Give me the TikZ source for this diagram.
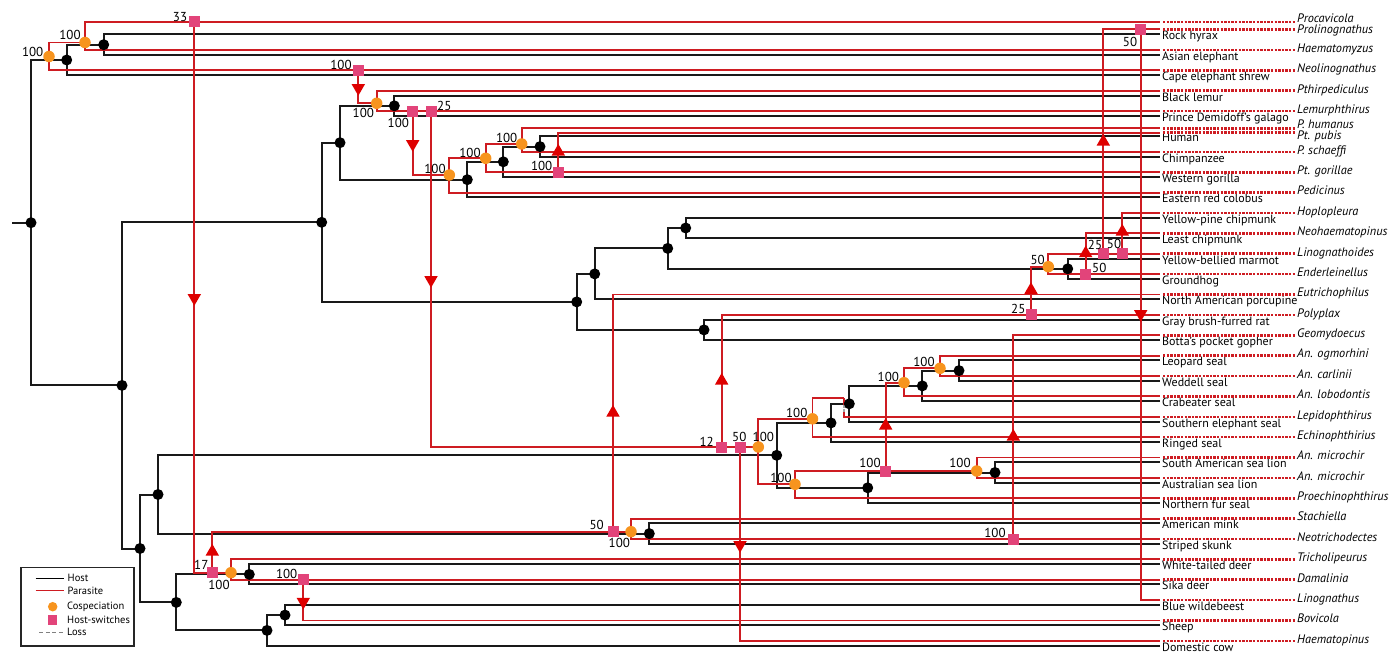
\documentclass[tikz,border=0pt]{standalone}
\usepackage{fontspec}
\setmainfont{PT Sans}
\usetikzlibrary{shapes.geometric}
\definecolor{parc}{RGB}{206,28,34}
\definecolor{tric}{RGB}{222,0,0}
\definecolor{orng}{RGB}{247,148,30}
\definecolor{pnk}{RGB}{226,68,122}
\tikzset{
 host/.style={line width=2pt, black!90},
 para/.style={line width=1.9pt, parc},
 pdot/.style={line width=2.6pt, parc, dash pattern=on 2.4pt off 1.2pt},
 bdot/.style={circle, fill=black, inner sep=0pt, minimum size=11pt},
 cosp/.style={circle, fill=orng, inner sep=0pt, minimum size=11.5pt},
 hsw/.style={rectangle, fill=pnk, inner sep=0pt, minimum size=11pt},
 tridown/.style={regular polygon, regular polygon sides=3, shape border rotate=180, fill=tric, inner sep=0pt, minimum size=15.5pt},
 triup/.style={regular polygon, regular polygon sides=3, fill=tric, inner sep=0pt, minimum size=15.5pt},
 hlab/.style={anchor=base west, font=\fontsize{12}{12}\selectfont, inner sep=0pt},
 plab/.style={anchor=base west, font=\fontsize{12.3}{12}\selectfont\itshape, inner sep=0pt},
 num/.style={font=\fontsize{13}{13}\selectfont, inner sep=0pt},
 lossline/.style={line width=1.8pt, gray!70, dash pattern=on 3pt off 1.5pt},
 legtxt/.style={anchor=west, font=\fontsize{10.5}{11}\selectfont, inner sep=0pt},
}
\begin{document}
\begin{tikzpicture}[x=1pt,y=-1pt]
\useasboundingbox (0,0) rectangle (1400,652);

% ---------- host leaves ----------
\foreach \i/\t in {1/Rock hyrax,2/Asian elephant,3/Cape elephant shrew,4/Black lemur,5/Prince Demidoff's galago,6/Human,7/Chimpanzee,8/Western gorilla,9/Eastern red colobus,10/Yellow-pine chipmunk,11/Least chipmunk,12/Yellow-bellied marmot,13/Groundhog,14/North American porcupine,15/Gray brush-furred rat,16/Botta's pocket gopher,17/Leopard seal,18/Weddell seal,19/Crabeater seal,20/Southern elephant seal,21/Ringed seal,22/South American sea lion,23/Australian sea lion,24/Northern fur seal,25/American mink,26/Striped skunk,27/White-tailed deer,28/Sika deer,29/Blue wildebeest,30/Sheep,31/Domestic cow}{
  \pgfmathsetmacro\yy{34.5+20.37*(\i-1)}
  \coordinate (h\i) at (1160,\yy);
  \node[hlab] (hl\i) at (1162,\yy+5.5) {\t};
}

% ---------- parasite leaves ----------
\foreach \i/\yy/\dy/\t in {1/22/0.5/Procavicola,2/29.3/4/Prolinognathus,3/50.1/2.3/Haematomyzus,4/70.4/2.3/Neolinognathus,5/90.8/2.3/Pthirpediculus,6/111.2/2.3/Lemurphthirus,7/128.3/0/P. humanus,8/132.7/6.6/Pt. pubis,9/151.9/2.3/P. schaeffi,10/172.3/2.3/Pt. gorillae,11/192.7/2.3/Pedicinus,12/213.0/2.3/Hoplopleura,13/233.4/2.3/Neohaematopinus,14/253.8/2.3/Linognathoides,15/274.2/2.3/Enderleinellus,16/294.5/2.3/Eutrichophilus,17/314.9/2.3/Polyplax,18/335.3/2.3/Geomydoecus,19/355.6/2.3/An. ogmorhini,20/376.0/2.3/An. carlinii,21/396.4/2.3/An. lobodontis,22/416.8/2.3/Lepidophthirus,23/437.1/2.3/Echinophthirius,24/457.5/2.3/An. microchir,25/477.9/2.3/An. microchir,26/498.2/2.3/Proechinophthirus,27/518.6/2.3/Stachiella,28/539.0/2.3/Neotrichodectes,29/559.4/2.3/Tricholipeurus,30/579.7/2.3/Damalinia,31/600.1/2.3/Linognathus,32/620.5/2.3/Bovicola,33/640.8/2.3/Haematopinus}{
  \coordinate (p\i) at (1160,\yy);
  \coordinate (pa\i) at (1163,\yy);
  \coordinate (pd\i) at (1295,\yy);
  \draw[pdot] (pa\i) -- (pd\i);
  \node[plab] (pl\i) at (1297,\yy+\dy) {\t};
}

% ---------- host internal nodes ----------
\coordinate (Hstub) at (12,222.7);
\coordinate (Hroot) at (31,222.7);
\coordinate (Hafro) at (66.7,60.0);
\coordinate (Hhe) at (103.7,44.7);
\coordinate (Hbor) at (122,385.4);
\coordinate (Heuar) at (321.7,222.3);
\coordinate (Hprim) at (340,142.7);
\coordinate (Hlem) at (394.3,105.8);
\coordinate (Hcat) at (467.3,179.7);
\coordinate (Hhcg) at (503.3,161.8);
\coordinate (Hhc) at (540,146.6);
\coordinate (Hrod) at (576.7,301.9);
\coordinate (Hscipor) at (594.7,273.9);
\coordinate (Hsci) at (667.7,248.4);
\coordinate (Hchip) at (685.7,228.0);
\coordinate (Hmarm) at (1067.7,268.8);
\coordinate (Hratgo) at (704,329.9);
\coordinate (Hlaur) at (140,548.5);
\coordinate (Hcarn) at (158,494.5);
\coordinate (Hpinn) at (776.7,455.3);
\coordinate (Hphoc) at (831,422.9);
\coordinate (Hmir) at (849.3,403.8);
\coordinate (Hlwc) at (922.3,385.9);
\coordinate (Hlw) at (959,370.6);
\coordinate (Hotar) at (867.7,487.8);
\coordinate (Hsl) at (995,472.5);
\coordinate (Hmust) at (649.3,533.6);
\coordinate (Hcet) at (176.3,602.4);
\coordinate (Hdeer) at (249.3,574.4);
\coordinate (Hbov) at (267,630.4);
\coordinate (Hws) at (285,615.1);

% ---------- host edges ----------
\draw[host] (Hstub) -- (Hroot);
\foreach \a/\b in {Hroot/Hafro,Hroot/Hbor,Hafro/Hhe,Hafro/h3,Hhe/h1,Hhe/h2,
  Hbor/Heuar,Hbor/Hlaur,Heuar/Hprim,Heuar/Hrod,Hprim/Hlem,Hprim/Hcat,Hlem/h4,Hlem/h5,
  Hcat/Hhcg,Hcat/h9,Hhcg/Hhc,Hhcg/h8,Hhc/h6,Hhc/h7,
  Hrod/Hscipor,Hrod/Hratgo,Hscipor/Hsci,Hscipor/h14,Hsci/Hchip,Hsci/Hmarm,
  Hchip/h10,Hchip/h11,Hmarm/h12,Hmarm/h13,Hratgo/h15,Hratgo/h16,
  Hlaur/Hcarn,Hlaur/Hcet,Hcarn/Hpinn,Hcarn/Hmust,Hpinn/Hphoc,Hpinn/Hotar,
  Hphoc/Hmir,Hphoc/h21,Hmir/Hlwc,Hmir/h20,Hlwc/Hlw,Hlwc/h19,Hlw/h17,Hlw/h18,
  Hotar/Hsl,Hotar/h24,Hsl/h22,Hsl/h23,Hmust/h25,Hmust/h26,
  Hcet/Hdeer,Hcet/Hbov,Hdeer/h27,Hdeer/h28,Hbov/Hws,Hbov/h31,Hws/h29,Hws/h30}
  {\draw[host] (\a) |- (\b);}

% ---------- parasite internal nodes ----------
\coordinate (O1) at (49,56.5);
\coordinate (O2) at (85,42.5);
\coordinate (S33) at (194.3,22);
\coordinate (S17) at (212.3,572.7);
\coordinate (Otri) at (231,572.7);
\coordinate (S50m) at (613,531.7);
\coordinate (Omust) at (631,531.7);
\coordinate (S100c) at (1013.3,539.0);
\coordinate (S100d) at (303.3,579.7);
\coordinate (S100a) at (358.3,70.4);
\coordinate (Olem) at (376.7,103.3);
\coordinate (S100b) at (412.7,111.2);
\coordinate (S25) at (431,111.2);
\coordinate (Oape) at (449.3,175);
\coordinate (Ohcg) at (485.7,158.3);
\coordinate (Ohc) at (521.7,144);
\coordinate (S100e) at (558.3,172.3);
\coordinate (S12) at (721.7,447);
\coordinate (S50p) at (740,447);
\coordinate (Opinn) at (758.3,447);
\coordinate (S25r) at (1031,314.9);
\coordinate (Osci) at (1048.3,266.7);
\coordinate (S25s) at (1103.3,253.8);
\coordinate (S50s) at (1122.3,253.8);
\coordinate (S50e) at (1085.7,274.2);
\coordinate (S50h) at (1140.7,29.3);
\coordinate (Ophoc) at (812.5,418.8);
\coordinate (Lc) at (844.3,398.3);
\coordinate (La) at (844.3,404.5);
\coordinate (Lb) at (844.3,412);
\coordinate (Ootar) at (795,484.3);
\coordinate (S100f) at (885.7,471);
\coordinate (Osl) at (976.7,471);
\coordinate (Olwc) at (904,382.7);
\coordinate (Olw) at (940,368.3);

% ---------- parasite edges ----------
\foreach \a/\b in {O1/O2,O1/p4,O2/p1,O2/p3,S33/S17,S17/S50m,S50m/p16,Omust/p27,Omust/p28,
  S100c/p18,Otri/p29,Otri/p30,S100d/p32,S100a/Olem,Olem/p5,Olem/p6,S100b/Oape,S25/S12,
  Oape/Ohcg,Oape/p11,Ohcg/Ohc,Ohcg/p10,Ohc/p7,Ohc/p9,S100e/p8,S12/p17,S25r/Osci,
  Osci/p14,Osci/p15,S50e/p13,S25s/S50h,S50h/p31,S50s/p12,S50p/p33,
  Opinn/Ophoc,Opinn/Ootar,Ophoc/Lc,Lc/p22,Ophoc/p23,Ootar/Osl,Ootar/p26,Osl/p24,Osl/p25,
  S100f/Olwc,Olwc/Olw,Olwc/p21,Olw/p19,Olw/p20}
  {\draw[para] (\a) |- (\b);}
\draw[para] (S17) -- (Otri);
\draw[para] (S50m) -- (Omust);
\draw[para] (S12) -- (Opinn);
\draw[para] (S50h) -- (p2);
\draw[white, line width=2.4pt] (La) -- (Lb);
\draw[lossline] (La) -- (Lb);

% ---------- markers ----------
\foreach \n in {Hroot,Hafro,Hhe,Hbor,Heuar,Hprim,Hlem,Hcat,Hhcg,Hhc,Hrod,Hscipor,Hsci,Hchip,Hmarm,Hratgo,Hlaur,Hcarn,Hpinn,Hphoc,Hmir,Hlwc,Hlw,Hotar,Hsl,Hmust,Hcet,Hdeer,Hbov,Hws}
  {\node[bdot] (d\n) at (\n) {};}
\foreach \n in {O1,O2,Otri,Omust,Olem,Oape,Ohcg,Ohc,Opinn,Osci,Ophoc,Ootar,Osl,Olwc,Olw}
  {\node[cosp] (d\n) at (\n) {};}
\foreach \n in {S33,S17,S50m,S100c,S100d,S100a,S100b,S25,S100e,S12,S50p,S25r,S25s,S50s,S50e,S50h,S100f}
  {\node[hsw] (d\n) at (\n) {};}
\foreach \n/\x/\y in {T1/194.3/298,T5/303.3/601.7,T6/358.3/88,T7/412.7/144,T8/431/280,T14/1140.7/314,T16/740/545}
  {\node[tridown] (\n) at (\x,\y) {};}
\foreach \n/\x/\y in {T2/212.3/551.7,T3/613/412.7,T4/1013.3/436.7,T9/558.3/151.7,T10/721.7/380.7,T11/1031/290,T12/1085.7/253.3,T13/1103.3/141.7,T15/1122.3/231.7,T17/885.7/425.7}
  {\node[triup] (\n) at (\x,\y) {};}

% ---------- support values ----------
\foreach \n/\x/\y/\t in {n1/32.7/51.7/100,n2/70/35/100,n3/180/17.3/33,n4/341/65/100,
  n5/363.3/112.7/100,n6/398.3/123.3/100,n7/444.3/106/25,n8/470/152.7/100,n9/506.7/138.3/100,
  n10/435/169.3/100,n11/541.7/165.7/100,n12/1130/41.7/50,n13/1037.7/260/50,n14/1018.3/309/25,
  n15/924/361.7/100,n16/888.3/376.7/100,n17/796.7/413/100,n18/1095/245/25,n19/1114/244.3/50,
  n20/1099.3/267.7/50,n21/201.3/565/17,n22/219/585/100,n23/286.7/574/100,n24/596.7/525/50,
  n25/619.3/543.3/100,n26/706.7/441.7/12,n27/739.3/436.7/50,n28/763.3/437.3/100,
  n29/781/478.3/100,n30/870/463.3/100,n31/960/463.3/100,n32/995/532.7/100}
  {\node[num] (\n) at (\x,\y) {\t};}

% ---------- legend ----------
\draw[line width=1.4pt, black!85] (21,567.3) rectangle (134,646);
\coordinate (lg1a) at (35.7,578.3); \coordinate (lg1b) at (64.3,578.3);
\coordinate (lg2a) at (35.7,590.7); \coordinate (lg2b) at (64.3,590.7);
\coordinate (lg5a) at (39.3,632.3); \coordinate (lg5b) at (63.3,632.3);
\draw[line width=1.5pt, black] (lg1a) -- (lg1b);
\draw[line width=1.5pt, parc] (lg2a) -- (lg2b);
\draw[line width=1.6pt, gray, dash pattern=on 4pt off 2.5pt] (lg5a) -- (lg5b);
\node[cosp, minimum size=9.5pt] (lgc) at (52.7,606.7) {};
\node[hsw, minimum size=9.5pt] (lgs) at (52.7,620) {};
\node[legtxt] (lt1) at (67.5,578.3) {Host};
\node[legtxt] (lt2) at (67.5,590.7) {Parasite};
\node[legtxt] (lt3) at (67,606.7) {Cospeciation};
\node[legtxt] (lt4) at (67,620) {Host-switches};
\node[legtxt] (lt5) at (67,632.3) {Loss};
\end{tikzpicture}
\end{document}
